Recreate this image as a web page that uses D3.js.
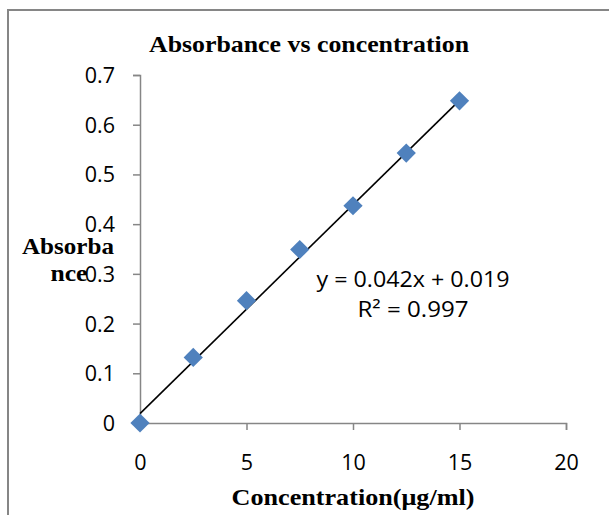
<!DOCTYPE html>
<html>
<head>
<meta charset="utf-8">
<script src="https://cdn.jsdelivr.net/npm/d3@7"></script>
<style>
	body { margin: 0; background: #fff; }
	svg { display: block; }
</style>
</head>
<body>
<svg id="chart" width="609" height="515"></svg>
<script>

var concentration = [0, 2.5, 5, 7.5, 10, 12.5, 15];
var absorbance = [0, 0.132, 0.246, 0.349, 0.437, 0.543, 0.648];
var xTicks = [0, 5, 10, 15, 20];
var yTicks = [0, 0.1, 0.2, 0.3, 0.4, 0.5, 0.6, 0.7];
var trendSlope = 0.042;
var trendIntercept = 0.019;
var rSquared = 0.997;
var trendRange = [0, 15];


function drawChart()
{
	var svg = d3.select("#chart");

	var x = d3.scaleLinear().domain([0, 20]).range([140, 566]);
	var y = d3.scaleLinear().domain([0, 0.7]).range([423, 75]);

	// outer chart frame (right and bottom edges fall outside the picture)
	svg.append("path")
		.attr("d", "M8,515 V10 H609")
		.attr("fill", "none")
		.attr("stroke", "#868686")
		.attr("stroke-width", 2);

	var xAxis = svg.append("g")
		.attr("transform", "translate(0,423)")
		.call(d3.axisBottom(x).tickValues(xTicks).tickSize(7).tickPadding(24).tickFormat(d3.format("d")));

	var yAxis = svg.append("g")
		.attr("transform", "translate(140,0)")
		.call(d3.axisLeft(y).tickValues(yTicks).tickSize(7).tickPadding(18).tickFormat(function(d)
		{
			return d === 0 ? "0" : d3.format(".1f")(d);
		}));

	[xAxis, yAxis].forEach(function(a)
	{
		a.select(".domain").attr("stroke", "#868686").attr("stroke-width", 1.5);
		a.selectAll(".tick line").attr("stroke", "#868686").attr("stroke-width", 1.5);
		a.selectAll(".tick text")
			.attr("fill", "#000")
			.style("font-family", "'Open Sans', 'Liberation Sans', sans-serif")
			.style("font-size", "21.5px");
	});
	yAxis.selectAll(".tick text").attr("dy", "0.35em");
	xAxis.selectAll(".tick text").attr("dy", "0.75em");

	// trendline
	svg.append("line")
		.attr("x1", x(trendRange[0]))
		.attr("y1", y(trendSlope * trendRange[0] + trendIntercept))
		.attr("x2", x(trendRange[1]))
		.attr("y2", y(trendSlope * trendRange[1] + trendIntercept))
		.attr("stroke", "#000")
		.attr("stroke-width", 1.6);

	var points = concentration.map(function(c, i)
	{
		return { x: c, y: absorbance[i] };
	});

	svg.selectAll(".pt")
		.data(points)
		.enter()
		.append("path")
		.classed("pt", true)
		.attr("d", d3.symbol().type(d3.symbolSquare).size(185))
		.attr("transform", function(d)
		{
			return "translate(" + x(d.x) + "," + y(d.y) + ") rotate(45)";
		})
		.attr("fill", "#4F81BD");

	var serif = "'Liberation Serif', 'Times New Roman', serif";

	function boldText(tx, ty, width, label)
	{
		var t = svg.append("text")
			.attr("x", tx)
			.attr("y", ty)
			.attr("text-anchor", "middle")
			.style("font-family", serif)
			.style("font-weight", "bold")
			.style("font-size", "22.5px")
			.text(label);
		if (width) t.attr("textLength", width).attr("lengthAdjust", "spacingAndGlyphs");
		return t;
	}

	boldText(309, 52, 320, "Absorbance vs concentration");
	boldText(353, 505, 243, "Concentration(μg/ml)");
	boldText(68, 254, 92, "Absorba");
	boldText(69, 281, 37, "nce");

	var sans = "'Open Sans', 'Liberation Sans', sans-serif";

	svg.append("text")
		.attr("x", 413)
		.attr("y", 287)
		.attr("text-anchor", "middle")
		.attr("textLength", 193)
		.attr("lengthAdjust", "spacingAndGlyphs")
		.style("font-family", sans)
		.style("font-size", "21.5px")
		.text("y = " + trendSlope + "x + " + trendIntercept);

	svg.append("text")
		.attr("x", 413)
		.attr("y", 317)
		.attr("text-anchor", "middle")
		.attr("textLength", 111)
		.attr("lengthAdjust", "spacingAndGlyphs")
		.style("font-family", sans)
		.style("font-size", "21.5px")
		.text("R² = " + rSquared);
}

drawChart();

</script>
</body>
</html>
